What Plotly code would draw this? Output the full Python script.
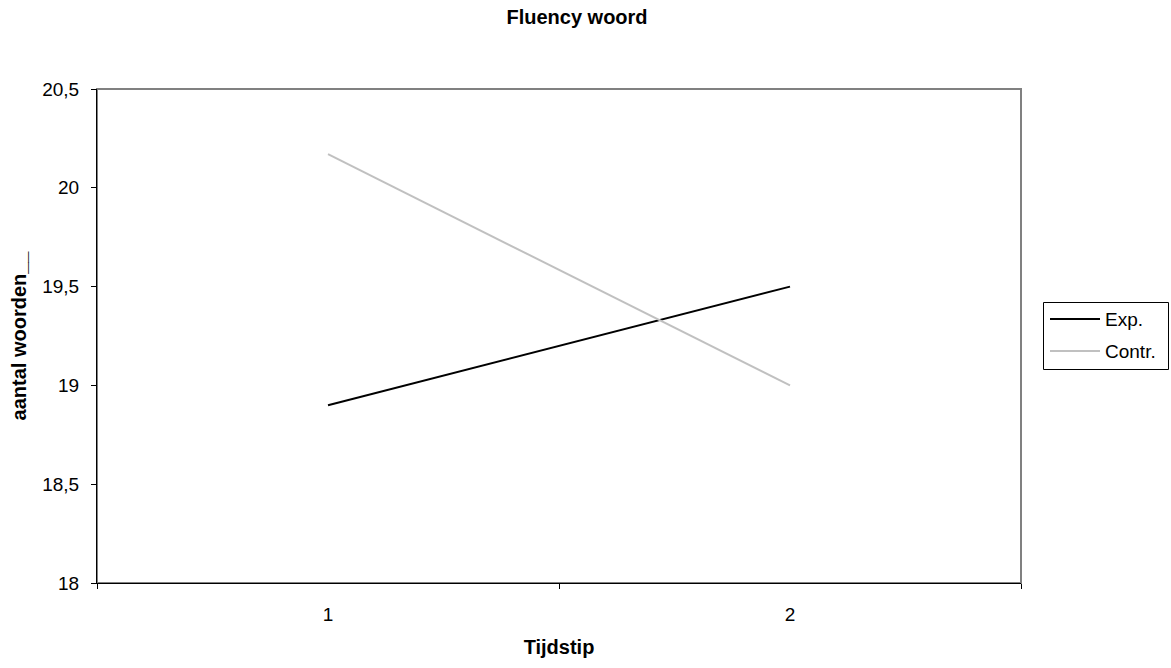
import plotly.graph_objects as go

# Mean word-fluency scores per measurement moment
tijdstip = ["1", "2"]
exp_values = [18.9, 19.5]
contr_values = [20.17, 19.0]
y_ticks = [18, 18.5, 19, 19.5, 20, 20.5]

series_names = ["Exp.", "Contr."]
series_colors = ["#000000", "#c0c0c0"]

FONT = "Liberation Sans, Arial, sans-serif"

# plot-area geometry in pixels
W, H = 1171, 668
L, R, T, B = 97, 150, 89, 85
PW, PH = W - L - R, H - T - B


def px_x(px):
    return (px - L) / PW


def px_y(py):
    return (H - B - py) / PH


fig = go.Figure()
for name, color, vals in zip(series_names, series_colors, [exp_values, contr_values]):
    fig.add_trace(go.Scatter(
        x=tijdstip, y=vals, name=name, mode="lines",
        line=dict(color=color, width=2), showlegend=False,
    ))

# grey plot-area frame (top and right edges visible)
fig.add_shape(type="rect", xref="paper", yref="paper", x0=0, y0=0, x1=1, y1=1,
              line=dict(color="#808080", width=2), layer="below")

# legend box with line samples
fig.add_shape(type="rect", xref="paper", yref="paper",
              x0=px_x(1043.5), x1=px_x(1168.5), y0=px_y(369.5), y1=px_y(302.5),
              line=dict(color="#000000", width=1), fillcolor="white")
for i, (name, color) in enumerate(zip(series_names, series_colors)):
    yy = 319 + 32 * i
    fig.add_shape(type="line", xref="paper", yref="paper",
                  x0=px_x(1050), x1=px_x(1100), y0=px_y(yy), y1=px_y(yy),
                  line=dict(color=color, width=2))
    fig.add_annotation(xref="paper", yref="paper", x=px_x(1103), y=px_y(yy),
                       xanchor="left", yanchor="middle", showarrow=False,
                       text=name, font=dict(family=FONT, size=19, color="#000000"))

fig.update_layout(
    width=W, height=H,
    margin=dict(l=L, r=R, t=T, b=B),
    paper_bgcolor="white", plot_bgcolor="white",
    separators=",.",
    font=dict(family=FONT, size=19, color="#000000"),
    title=dict(text="<b>Fluency woord</b>", x=577 / W, xref="container", xanchor="center",
               y=1 - 17 / H, yref="container", yanchor="middle",
               font=dict(family=FONT, size=20)),
    showlegend=False,
    xaxis=dict(
        type="category", range=[-0.5, 1.5], tickson="boundaries",
        ticks="outside", ticklen=5, tickcolor="#000000",
        showline=True, linecolor="#000000", linewidth=1,
        showgrid=False, zeroline=False, ticklabelstandoff=14,
        tickfont=dict(family=FONT, size=19),
        title=dict(text="<b>Tijdstip</b>", standoff=16,
                   font=dict(family=FONT, size=20)),
    ),
    yaxis=dict(
        range=[18, 20.5], tickmode="array", tickvals=y_ticks,
        ticks="outside", ticklen=5, tickcolor="#000000",
        showline=True, linecolor="#000000", linewidth=1,
        showgrid=False, zeroline=False, ticklabelstandoff=8,
        tickfont=dict(family=FONT, size=19),
        title=dict(text="<b>aantal woorden__</b>", standoff=10,
                   font=dict(family=FONT, size=20)),
    ),
)

fig.write_html("out.html")
